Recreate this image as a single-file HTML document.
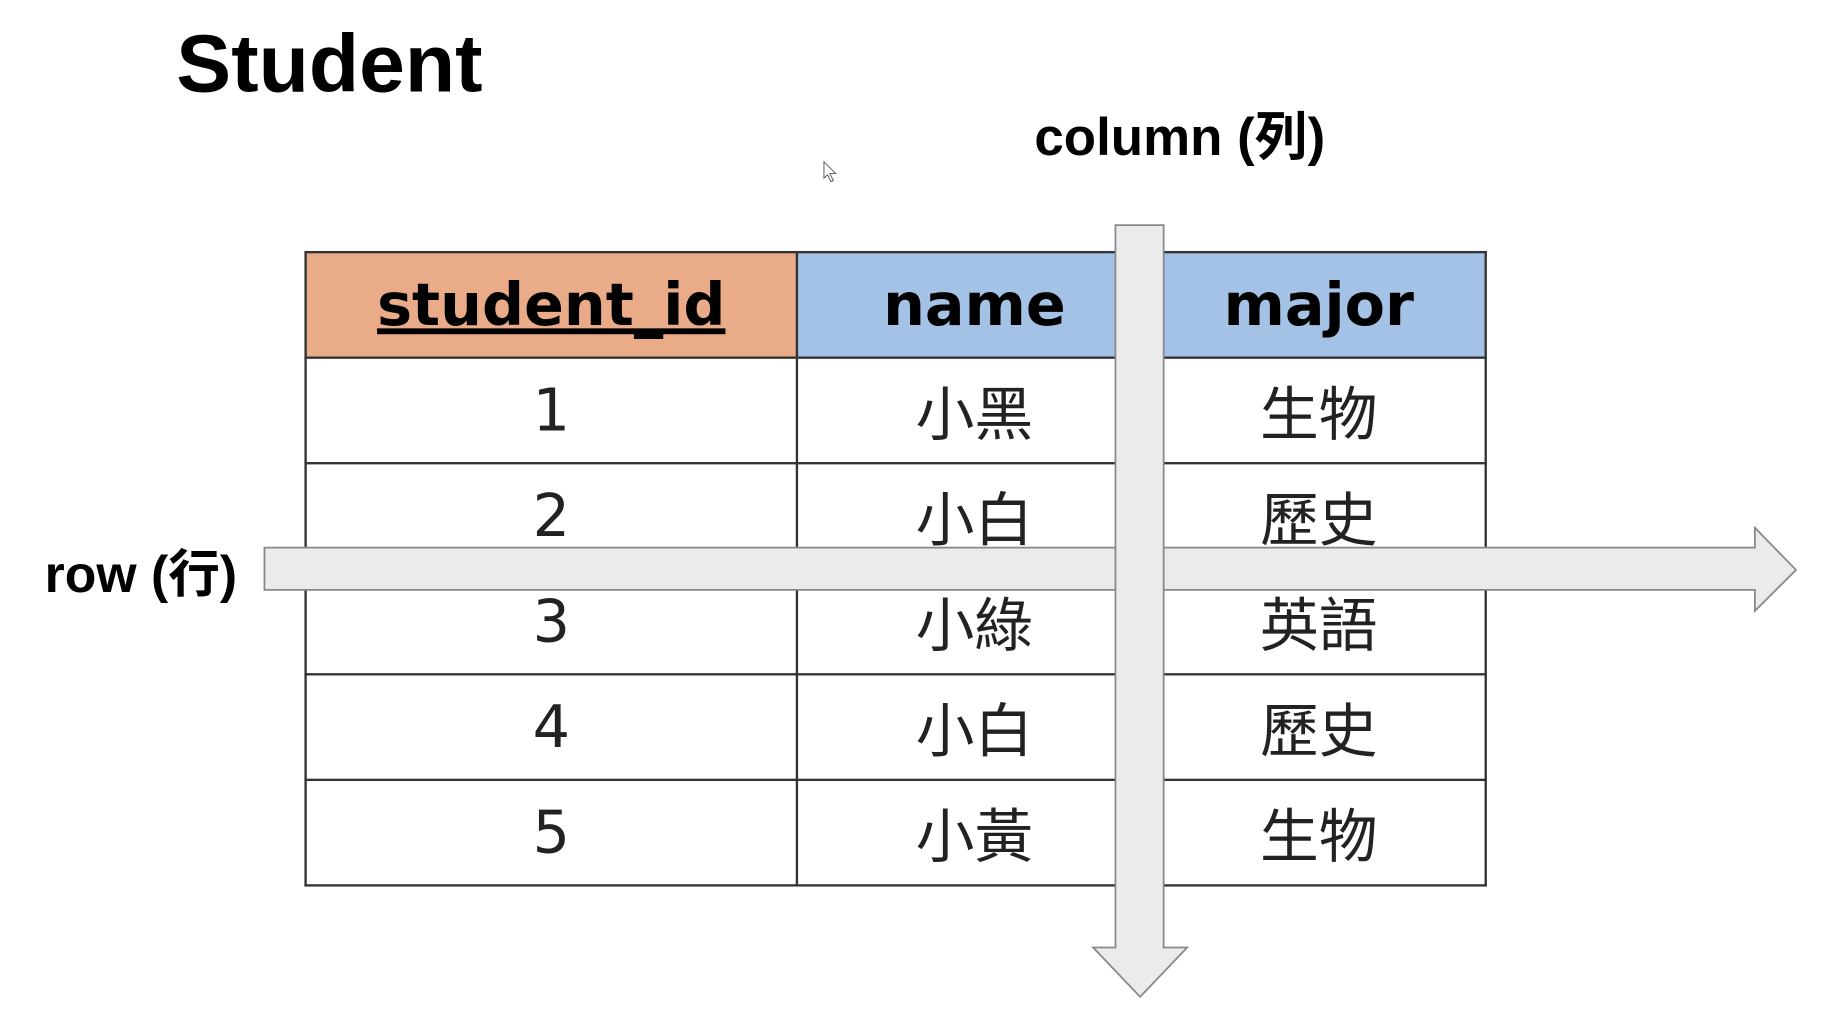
<!DOCTYPE html>
<html><head><meta charset="utf-8"><style>
html,body{margin:0;padding:0;background:#fff;width:1843px;height:1032px;overflow:hidden}
#w{position:absolute;left:0;top:0;width:1568px;height:880px;transform:scale(1.1754,1.1727);transform-origin:0 0}
.t{position:absolute;font-family:"Liberation Sans","Noto Sans CJK TC",sans-serif;font-weight:bold;color:#000;white-space:nowrap}
table{position:absolute;left:259px;top:214px;border-collapse:collapse;table-layout:fixed;width:1004px;font-family:"DejaVu Sans","Noto Sans CJK TC",sans-serif}
tr{height:90px}
td{border:2px solid #333;text-align:center;font-size:50px;padding:0;color:#222}
th{border:2px solid #333;font-size:50px;padding:0}
</style></head><body><div id="w">
<div class="t" style="left:150px;top:14px;font-size:70px">Student</div>
<div class="t" style="left:880px;top:80px;font-size:45px">column (列)</div>
<div class="t" style="left:38px;top:454px;font-size:44px">row (行)</div>
<table>
<colgroup><col style="width:418px"><col style="width:302px"><col style="width:284px"></colgroup>
<tr><th style="background:#E9AB88"><u>student_id</u></th><th style="background:#A3C2E5">name</th><th style="background:#A3C2E5">major</th></tr>
<tr><td>1</td><td>小黑</td><td>生物</td></tr>
<tr><td>2</td><td>小白</td><td>歷史</td></tr>
<tr><td>3</td><td>小綠</td><td>英語</td></tr>
<tr><td>4</td><td>小白</td><td>歷史</td></tr>
<tr><td>5</td><td>小黃</td><td>生物</td></tr>
</table>
<svg width="1568" height="880" style="position:absolute;left:0;top:0">
<polygon points="225,467 1493,467 1493,450 1528,486 1493,521 1493,503 225,503" fill="#EBEBEB" stroke="#888" stroke-width="1.5"/>
<polygon points="949,192 990,192 990,808 1010,808 970,850 930,808 949,808" fill="#EBEBEB" stroke="#888" stroke-width="1.5"/>
<path d="M701,138 L701,152 L704,149 L707,155 L709,154 L706,148 L711,148 Z" fill="#fff" stroke="#555" stroke-width="0.8"/>
</svg>
</div></body></html>
